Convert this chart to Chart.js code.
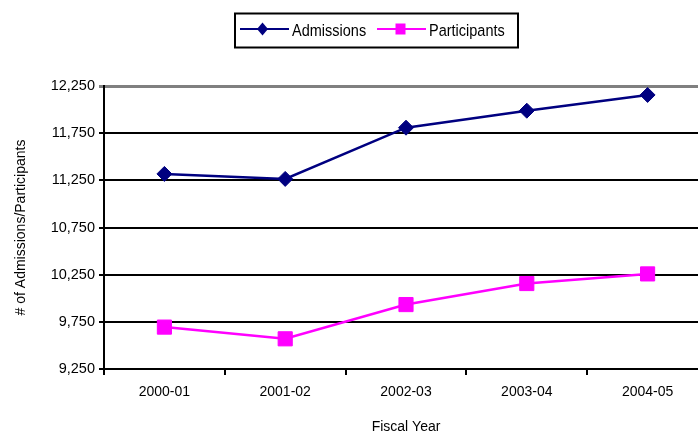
<!DOCTYPE html>
<html>
<head>
<meta charset="utf-8">
<script src="https://cdn.jsdelivr.net/npm/chart.js@4/dist/chart.umd.min.js"></script>
<style>
html,body{margin:0;padding:0;background:#fff;overflow:hidden;}
body{width:708px;height:436px;}
#wrap{width:708px;height:436px;}
canvas{display:block;}
</style>
</head>
<body>
<div id="wrap"><canvas id="c" width="708" height="436" style="width:708px;height:436px"></canvas></div>
<script>
const categories = ["2000-01", "2001-02", "2002-03", "2003-04", "2004-05"];
const admissions = [11318, 11265, 11808, 11988, 12155];
const participants = [9694, 9570, 9933, 10156, 10258];
const yTicks = [9250, 9750, 10250, 10750, 11250, 11750, 12250];
const seriesNames = ["Admissions", "Participants"];

const FONT = "'Liberation Sans', Arial, sans-serif";

const legendPlugin = {
  id: 'customLegend',
  afterDraw(chart) {
    const ctx = chart.ctx;
    ctx.save();
    ctx.strokeStyle = '#000';
    ctx.lineWidth = 2;
    ctx.strokeRect(235, 13.5, 283, 34);
    const items = [
      {x0: 240, cx: 262.5, tx: 292},
      {x0: 377, cx: 400.5, tx: 429}
    ];
    const y = 29;
    chart.data.datasets.forEach((ds, i) => {
      const it = items[i];
      ctx.strokeStyle = ds.borderColor;
      ctx.lineWidth = 2;
      ctx.beginPath();
      ctx.moveTo(it.x0, y);
      ctx.lineTo(it.x0 + 49, y);
      ctx.stroke();
      ctx.fillStyle = ds.backgroundColor;
      ctx.beginPath();
      if (ds.pointStyle === 'rectRot') {
        ctx.moveTo(it.cx - 5.5, y);
        ctx.lineTo(it.cx, y - 6.5);
        ctx.lineTo(it.cx + 5.5, y);
        ctx.lineTo(it.cx, y + 6.5);
        ctx.closePath();
      } else {
        ctx.rect(it.cx - 5, y - 5.5, 10, 11);
      }
      ctx.fill();
      ctx.fillStyle = '#000';
      ctx.font = '14.5px ' + FONT;
      ctx.textBaseline = 'alphabetic';
      ctx.textAlign = 'left';
      ctx.save();
      ctx.translate(it.tx, 36);
      ctx.scale(1, 1.2);
      ctx.fillText(ds.label, 0, 0);
      ctx.restore();
    });
    ctx.restore();
  }
};

new Chart(document.getElementById('c'), {
  type: 'line',
  data: {
    labels: categories,
    datasets: [
      {
        label: seriesNames[0],
        data: admissions,
        borderColor: '#000080',
        backgroundColor: '#000080',
        borderWidth: 2.5,
        pointStyle: 'rectRot',
        pointRadius: 7.5,
        pointBorderWidth: 1,
        pointBorderColor: '#000080',
        pointBackgroundColor: '#000080',
        tension: 0
      },
      {
        label: seriesNames[1],
        data: participants,
        borderColor: '#FF00FF',
        backgroundColor: '#FF00FF',
        borderWidth: 2.5,
        pointStyle: 'rect',
        pointRadius: 10,
        pointBorderWidth: 1,
        pointBorderColor: '#FF00FF',
        pointBackgroundColor: '#FF00FF',
        tension: 0
      }
    ]
  },
  options: {
    responsive: false,
    animation: false,
    devicePixelRatio: 1,
    layout: {autoPadding: false, padding: {top: 86, left: 0, right: 0, bottom: 0}},
    plugins: {
      legend: {display: false},
      tooltip: {enabled: false}
    },
    scales: {
      x: {
        type: 'category',
        offset: true,
        grid: {
          offset: true,
          drawOnChartArea: false,
          drawTicks: true,
          tickLength: 6,
          color: '#000',
          lineWidth: 2
        },
        border: {display: true, color: '#000', width: 2},
        ticks: {
          color: '#000',
          font: {family: FONT, size: 14},
          padding: 9,
          maxRotation: 0
        },
        title: {
          display: true,
          text: 'Fiscal Year',
          color: '#000',
          font: {family: FONT, size: 14},
          padding: {top: 0, bottom: 0}
        },
        afterFit(axis) { axis.height = 67; }
      },
      y: {
        min: yTicks[0],
        max: yTicks[yTicks.length - 1],
        afterBuildTicks(axis) { axis.ticks = yTicks.map(v => ({value: v})); },
        grid: {
          color: ctx => (ctx.tick && ctx.tick.value === yTicks[yTicks.length - 1]) ? '#808080' : '#000',
          lineWidth: ctx => (ctx.tick && ctx.tick.value === yTicks[yTicks.length - 1]) ? 3 : 2,
          tickLength: 5,
          drawTicks: true
        },
        border: {display: true, color: '#000', width: 2},
        ticks: {
          color: '#000',
          font: {family: FONT, size: 14.5},
          padding: 4,
          callback: v => Number(v).toLocaleString('en-US')
        },
        title: {
          display: true,
          text: '# of Admissions/Participants',
          color: '#000',
          font: {family: FONT, size: 14},
          padding: {top: 12.5, bottom: 0}
        },
        afterFit(axis) { axis.width = 104; }
      }
    }
  },
  plugins: [legendPlugin]
});
</script>
</body>
</html>
